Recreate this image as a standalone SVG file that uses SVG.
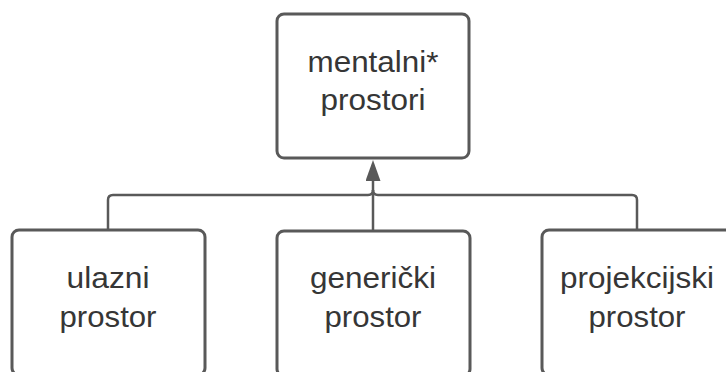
<svg xmlns="http://www.w3.org/2000/svg" width="726" height="372" viewBox="0 0 726 372">
<defs>
<style>
.box{fill:#fff;stroke:#595959;stroke-width:3}
.t{font-family:"Liberation Sans",Arial,sans-serif;font-size:30px;fill:#363636;text-anchor:middle}
.c{fill:none;stroke:#595959;stroke-width:2.5}
</style>
<marker id="ah" viewBox="0 0 21 15" refX="11" refY="7.5" markerWidth="21" markerHeight="15" markerUnits="userSpaceOnUse" orient="auto">
<path d="M0,0 L21,7.5 L0,15 z" fill="#595959"/>
</marker>
</defs>
<rect width="726" height="372" fill="#fff"/>
<g id="connectors">
<path class="c" d="M108,230 V200 Q108,195 113,195 H368 Q373,195 373,190"/>
<path class="c" d="M637,230 V200 Q637,195 632,195 H378 Q373,195 373,190"/>
<path class="c" d="M373,230 V170" marker-end="url(#ah)"/>
</g>
<g id="mentalni">
<rect class="box" x="277" y="14" width="192" height="144" rx="7"/>
<text class="t" x="373" y="72" textLength="131" lengthAdjust="spacingAndGlyphs">mentalni*</text>
<text class="t" x="373" y="110" textLength="105" lengthAdjust="spacingAndGlyphs">prostori</text>
</g>
<g id="ulazni">
<rect class="box" x="12" y="230" width="193" height="145" rx="7"/>
<text class="t" x="108" y="288" textLength="83" lengthAdjust="spacingAndGlyphs">ulazni</text>
<text class="t" x="108" y="327" textLength="97" lengthAdjust="spacingAndGlyphs">prostor</text>
</g>
<g id="genericki">
<rect class="box" x="277" y="231" width="193" height="145" rx="7"/>
<text class="t" x="373" y="288" textLength="126" lengthAdjust="spacingAndGlyphs">generički</text>
<text class="t" x="373" y="327" textLength="97" lengthAdjust="spacingAndGlyphs">prostor</text>
</g>
<g id="projekcijski">
<rect class="box" x="542" y="230" width="193" height="145" rx="7"/>
<text class="t" x="637" y="288" textLength="154" lengthAdjust="spacingAndGlyphs">projekcijski</text>
<text class="t" x="637" y="327" textLength="97" lengthAdjust="spacingAndGlyphs">prostor</text>
</g>
</svg>
